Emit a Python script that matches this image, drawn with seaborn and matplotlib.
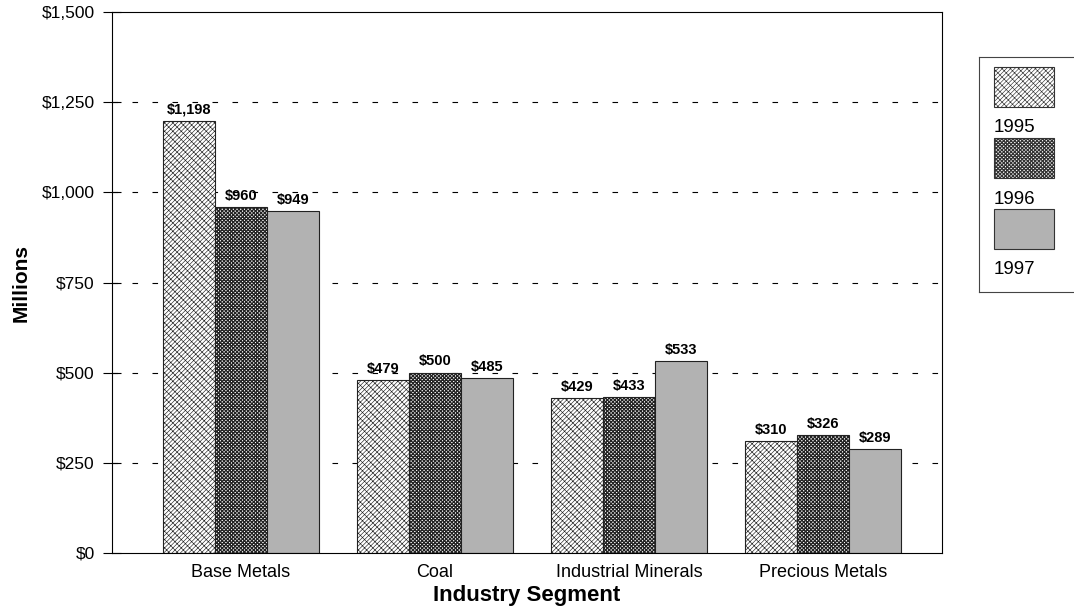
import matplotlib
matplotlib.use("Agg")
import matplotlib.pyplot as plt
import seaborn as sns
import pandas as pd
from matplotlib.patches import Rectangle

categories = ["Base Metals", "Coal", "Industrial Minerals", "Precious Metals"]
years = ["1995", "1996", "1997"]
v1995 = [1198, 479, 429, 310]
v1996 = [960, 500, 433, 326]
v1997 = [949, 485, 533, 289]
yticks = [0, 250, 500, 750, 1000, 1250, 1500]

sns.set_theme(style="white")
plt.rcParams["font.family"] = ["Liberation Sans", "DejaVu Sans"]
plt.rcParams["hatch.linewidth"] = 0.6
for k in ["text.color", "axes.labelcolor", "xtick.color", "ytick.color"]:
    plt.rcParams[k] = "black"

df = pd.DataFrame({
    "Segment": categories * 3,
    "Year": [y for y in years for _ in categories],
    "Value": v1995 + v1996 + v1997,
})

styles = {
    "1995": dict(face="white", hatch="/" * 8 + "\\" * 4, hlw=0.45),
    "1996": dict(face="white", hatch="x" * 9, hlw=0.9),
    "1997": dict(face="#b2b2b2", hatch="", hlw=0.6),
}

fig = plt.figure(figsize=(10.74, 6.16), dpi=100)
ax = fig.add_axes([112/1074, 1-553/616, (942-112)/1074, (553-12)/616])

sns.barplot(data=df, x="Segment", y="Value", hue="Year", order=categories,
            hue_order=years, palette=["white", "white", "#b2b2b2"],
            width=0.8, gap=0, edgecolor="#222222", linewidth=0.8,
            saturation=1, legend=False, ax=ax)

for yr, cont in zip(years, ax.containers):
    st = styles[yr]
    for p in cont:
        p.set_facecolor(st["face"])
        p.set_hatch(st["hatch"])
        p.set_edgecolor("#222222")
        if hasattr(p, "set_hatch_linewidth"):
            p.set_hatch_linewidth(st["hlw"])
    ax.bar_label(cont, labels=[f"${v:,.0f}" for v in cont.datavalues],
                 padding=3, fontsize=10.5, fontweight="bold", color="black")

ax.set_xlim(-0.665, 3.613)
ax.set_ylim(0, 1500)
ax.set_yticks(yticks)
ax.set_yticklabels([f"${v:,.0f}" for v in yticks], fontsize=12.5)
ax.tick_params(axis="y", direction="inout", length=13, width=0.8, color="black", left=True, pad=6)
ax.tick_params(axis="x", length=0, labelsize=13, pad=8)
for s in ax.spines.values():
    s.set_color("black")
    s.set_linewidth(0.8)
for v in yticks[1:-1]:
    ax.axhline(v, color="black", lw=0.8, ls=(0, (5, 13)), zorder=0)
ax.set_xlabel("Industry Segment", fontsize=16, fontweight="bold", labelpad=3)
ax.set_ylabel("Millions", fontsize=15, fontweight="bold", labelpad=8)

# legend panel
lax = fig.add_axes([979/1074, 1-292/616, 0.1, (292-57)/616])
lax.set_xlim(979, 979 + 107.4)
lax.set_ylim(292, 57)
lax.set_xticks([])
lax.set_yticks([])
for s in lax.spines.values():
    s.set_color("#444444")
    s.set_linewidth(0.8)
for i, yr in enumerate(years):
    st = styles[yr]
    top = 67 + 71 * i
    r = Rectangle((994, top), 60, 40, facecolor=st["face"], hatch=st["hatch"],
                  edgecolor="#333333", lw=0.8)
    if hasattr(r, "set_hatch_linewidth"):
        r.set_hatch_linewidth(st["hlw"])
    lax.add_patch(r)
    lax.text(994, top + 61, yr, fontsize=13.5, va="center", ha="left")

fig.savefig("out.png", dpi=100)
